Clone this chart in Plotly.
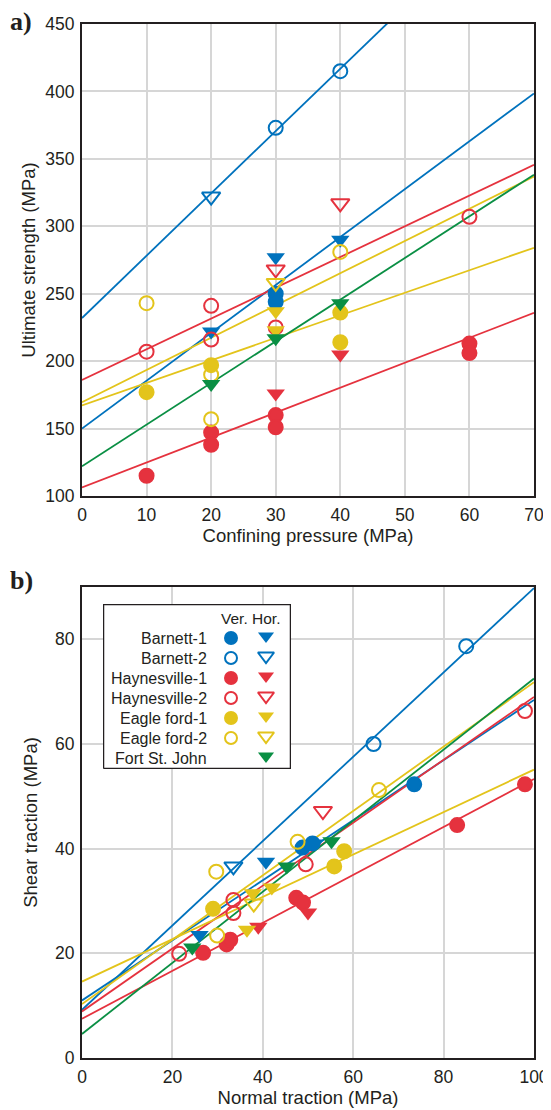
import plotly.graph_objects as go

# ---------------- data ----------------
SERIES = ["Barnett-1", "Barnett-2", "Haynesville-1", "Haynesville-2",
          "Eagle ford-1", "Eagle ford-2", "Fort St. John"]
COLORS = ["#0072BD", "#0072BD", "#E5323E", "#E5323E", "#E3C41B", "#E3C41B", "#0A8F44"]
FILLED = [True, False, True, False, True, False, True]

# Panel a: confining pressure (MPa) vs ultimate strength (MPa)
A_VER_X = {"Barnett-1": [30, 30], "Barnett-2": [30, 40],
           "Haynesville-1": [10, 20, 20, 30, 30, 60, 60],
           "Haynesville-2": [10, 20, 20, 30, 60],
           "Eagle ford-1": [10, 20, 40, 40], "Eagle ford-2": [10, 20, 20, 40],
           "Fort St. John": []}
A_VER_Y = {"Barnett-1": [250, 244], "Barnett-2": [373, 415],
           "Haynesville-1": [115, 147, 138, 160, 151, 213, 206],
           "Haynesville-2": [207, 241, 216, 225, 307],
           "Eagle ford-1": [177, 197, 236, 214], "Eagle ford-2": [243, 190, 157, 281],
           "Fort St. John": []}
A_HOR_X = {"Barnett-1": [20, 30, 40], "Barnett-2": [20],
           "Haynesville-1": [30, 40], "Haynesville-2": [30, 40],
           "Eagle ford-1": [30, 30], "Eagle ford-2": [30],
           "Fort St. John": [20, 30, 40]}
A_HOR_Y = {"Barnett-1": [222, 277, 290], "Barnett-2": [322],
           "Haynesville-1": [176, 205], "Haynesville-2": [268, 317],
           "Eagle ford-1": [237, 223], "Eagle ford-2": [258],
           "Fort St. John": [183, 217, 243]}
A_FIT_INTERCEPT = [150, 232, 106.3, 186, 167.2, 169.6, 122]
A_FIT_SLOPE = [3.55, 4.62, 1.85, 2.28, 1.67, 2.39, 3.09]
A_FIT_XMAX = 70

# Panel b: normal traction (MPa) vs shear traction (MPa)
B_VER_X = {"Barnett-1": [73.5, 48.8, 51.0], "Barnett-2": [85.0, 64.5],
           "Haynesville-1": [26.8, 32.0, 32.8, 47.4, 48.9, 83.0, 98.0],
           "Haynesville-2": [21.5, 33.5, 33.5, 49.5, 98.0],
           "Eagle ford-1": [29.0, 55.8, 58.0], "Eagle ford-2": [29.7, 29.9, 47.7, 65.7],
           "Fort St. John": []}
B_VER_Y = {"Barnett-1": [52.3, 40.2, 41.0], "Barnett-2": [78.7, 60.0],
           "Haynesville-1": [20.1, 21.7, 22.6, 30.6, 29.7, 44.5, 52.3],
           "Haynesville-2": [19.9, 27.7, 30.2, 37.0, 66.3],
           "Eagle ford-1": [28.5, 36.6, 39.5], "Eagle ford-2": [35.6, 23.4, 41.3, 51.2],
           "Fort St. John": []}
B_HOR_X = {"Barnett-1": [26.0, 40.7, 51.5], "Barnett-2": [33.5],
           "Haynesville-1": [39.0, 50.0], "Haynesville-2": [53.3],
           "Eagle ford-1": [36.5, 37.8, 42.0], "Eagle ford-2": [38.0],
           "Fort St. John": [24.4, 45.3, 55.2]}
B_HOR_Y = {"Barnett-1": [23.5, 37.5, 41.0], "Barnett-2": [36.6],
           "Haynesville-1": [25.1, 27.8], "Haynesville-2": [47.2],
           "Eagle ford-1": [24.5, 31.5, 32.6], "Eagle ford-2": [29.5],
           "Fort St. John": [21.1, 36.6, 41.4]}
B_FIT_INTERCEPT = [11.0, 9.2, 7.5, 8.9, 14.6, 10.3, 4.6]
B_FIT_SLOPE = [0.574, 0.806, 0.458, 0.601, 0.405, 0.615, 0.679]
B_FIT_XMAX = 100

A_XTICKS = [0, 10, 20, 30, 40, 50, 60, 70]
A_YTICKS = [100, 150, 200, 250, 300, 350, 400, 450]
B_XTICKS = [0, 20, 40, 60, 80, 100]
B_YTICKS = [0, 20, 40, 60, 80]

# ---------------- style / geometry ----------------
FONT = "Liberation Sans, Arial, sans-serif"
SERIF = "Liberation Serif, Times New Roman, serif"
TXT = "#231f20"
GRID = "#d6d6d6"
CIRC = 14
TRI = 16

# page body has an 8px margin: figure is sized to fit the 551x1110 window
W, H = 543, 1102
ML, MR, MT, MB = 74, 17, 16, 52
PW, PH = W - ML - MR, H - MT - MB
SCR_L, SCR_B = 82, 1058  # plot-area left / bottom in window pixels


def py(pix):  # window pixel y -> paper
    return (SCR_B - pix) / PH


def px(pix):  # window pixel x -> paper
    return (pix - SCR_L) / PW


fig = go.Figure()


def add_panel(xa, ya, fit_b, fit_m, xmax, vx, vy, hx, hy):
    for i, s in enumerate(SERIES):
        fig.add_trace(go.Scatter(
            x=[0, xmax], y=[fit_b[i], fit_b[i] + fit_m[i] * xmax],
            mode="lines", line=dict(color=COLORS[i], width=1.8),
            xaxis=xa, yaxis=ya, showlegend=False, hoverinfo="skip"))
    for i, s in enumerate(SERIES):
        c = COLORS[i]
        if vx[s]:
            fig.add_trace(go.Scatter(
                x=vx[s], y=vy[s], mode="markers", xaxis=xa, yaxis=ya, showlegend=False,
                marker=dict(symbol="circle" if FILLED[i] else "circle-open", size=CIRC,
                            color=c, line=dict(width=2, color=c))))
        if hx[s]:
            fig.add_trace(go.Scatter(
                x=hx[s], y=hy[s], mode="markers", xaxis=xa, yaxis=ya, showlegend=False,
                marker=dict(symbol="triangle-down" if FILLED[i] else "triangle-down-open",
                            size=TRI, color=c, line=dict(width=2 if not FILLED[i] else 0, color=c))))


add_panel("x", "y", A_FIT_INTERCEPT, A_FIT_SLOPE, A_FIT_XMAX, A_VER_X, A_VER_Y, A_HOR_X, A_HOR_Y)
add_panel("x2", "y2", B_FIT_INTERCEPT, B_FIT_SLOPE, B_FIT_XMAX, B_VER_X, B_VER_Y, B_HOR_X, B_HOR_Y)

# ---------------- custom legend (window-pixel overlay axes) ----------------
LEG_L, LEG_R, LEG_T, LEG_B = 103, 291, 604, 769
ROW0, DROW = 638, 20
VER_X, HOR_X, TEXT_R = 231, 266, 209

fig.add_trace(go.Scatter(
    x=[LEG_L + 0.5, LEG_R - 0.5, LEG_R - 0.5, LEG_L + 0.5, LEG_L + 0.5],
    y=[LEG_B - 0.5, LEG_B - 0.5, LEG_T + 0.5, LEG_T + 0.5, LEG_B - 0.5],
    mode="lines", fill="toself", fillcolor="white",
    line=dict(color=TXT, width=1.5), xaxis="x3", yaxis="y3",
    showlegend=False, hoverinfo="skip", cliponaxis=False))

for i, s in enumerate(SERIES):
    c = COLORS[i]
    yrow = ROW0 + i * DROW
    if A_VER_X[s]:
        fig.add_trace(go.Scatter(
            x=[VER_X], y=[yrow], mode="markers", xaxis="x3", yaxis="y3", showlegend=False,
            hoverinfo="skip",
            marker=dict(symbol="circle" if FILLED[i] else "circle-open", size=12,
                        color=c, line=dict(width=2, color=c))))
    fig.add_trace(go.Scatter(
        x=[HOR_X], y=[yrow - 2], mode="markers", xaxis="x3", yaxis="y3", showlegend=False,
        hoverinfo="skip",
        marker=dict(symbol="triangle-down" if FILLED[i] else "triangle-down-open", size=14,
                    color=c, line=dict(width=2 if not FILLED[i] else 0, color=c))))
    fig.add_annotation(x=TEXT_R, y=yrow, xref="x3", yref="y3", text=s, showarrow=False,
                       xanchor="right", yanchor="middle",
                       font=dict(family=FONT, size=16, color=TXT))
fig.add_annotation(x=219, y=ROW0 - 20, xref="x3", yref="y3", text="Ver. Hor.", showarrow=False,
                   xanchor="left", yanchor="middle", font=dict(family=FONT, size=15.5, color=TXT))

# panel labels
fig.add_annotation(x=px(8), y=py(21), xref="paper", yref="paper", text="<b>a)</b>",
                   showarrow=False, xanchor="left", yanchor="middle",
                   font=dict(family=SERIF, size=26, color=TXT))
fig.add_annotation(x=px(8), y=py(580), xref="paper", yref="paper", text="<b>b)</b>",
                   showarrow=False, xanchor="left", yanchor="middle",
                   font=dict(family=SERIF, size=26, color=TXT))

axis_common = dict(showline=True, mirror=True, linecolor=TXT, linewidth=2,
                   showgrid=True, gridcolor=GRID, gridwidth=1.5, zeroline=False,
                   ticks="", automargin=False, ticklabelstandoff=2,
                   tickfont=dict(family=FONT, size=17.5, color=TXT))
title_font = dict(family=FONT, size=18.5, color=TXT)

fig.update_layout(
    width=W, height=H, margin=dict(l=ML, r=MR, t=MT, b=MB, autoexpand=False),
    paper_bgcolor="white", plot_bgcolor="rgba(0,0,0,0)", showlegend=False,
    xaxis=dict(domain=[0, 1], range=[0, 70], tickvals=A_XTICKS, anchor="y",
               title=dict(text="Confining pressure (MPa)", font=title_font, standoff=4),
               **axis_common),
    yaxis=dict(domain=[py(496), 1], range=[100, 450], tickvals=A_YTICKS, anchor="x",
               title=dict(text="Ultimate strength (MPa)", font=title_font, standoff=5),
               **axis_common),
    xaxis2=dict(domain=[0, 1], range=[0, 100], tickvals=B_XTICKS, anchor="y2",
                title=dict(text="Normal traction (MPa)", font=title_font, standoff=4),
                **axis_common),
    yaxis2=dict(domain=[0, py(587)], range=[0, 90], tickvals=B_YTICKS, anchor="x2",
                title=dict(text="Shear traction (MPa)", font=title_font, standoff=13),
                **axis_common),
    xaxis3=dict(domain=[px(LEG_L), px(LEG_R)], range=[LEG_L, LEG_R], visible=False,
                anchor="y3", fixedrange=True, automargin=False),
    yaxis3=dict(domain=[py(LEG_B), py(LEG_T)], range=[LEG_B, LEG_T], visible=False,
                anchor="x3", fixedrange=True, automargin=False),
)

fig.write_html("out.html")
